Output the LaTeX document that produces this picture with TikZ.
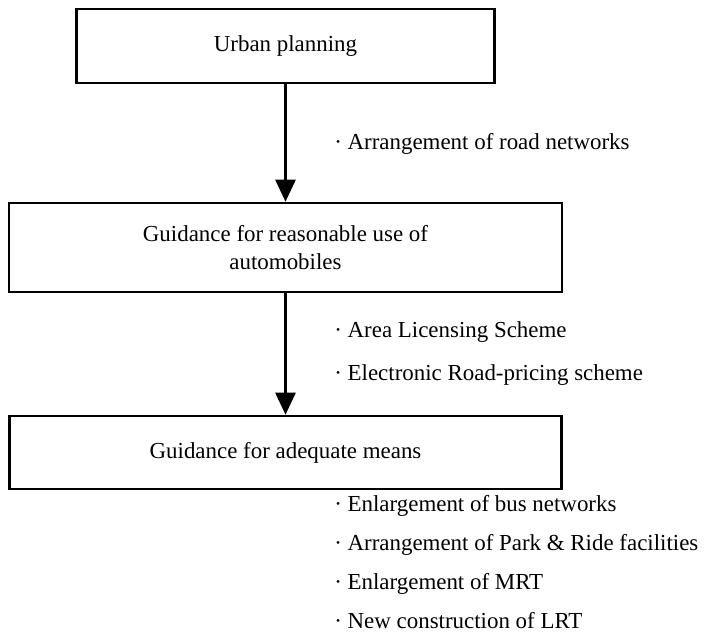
\documentclass[tikz,border=0pt]{standalone}
\usepackage{fontspec}
\setmainfont{Liberation Serif}
\usetikzlibrary{arrows.meta}

\begin{document}
\begin{tikzpicture}[x=0.025cm, y=-0.025cm, >={Triangle[length=0.55cm,width=0.5cm]},
    font=\fontsize{16.3}{20}\selectfont,
    box/.style={draw, line width=1.8pt, align=center, inner sep=0pt},
    item/.style={anchor=base west, inner sep=0pt}]
    \useasboundingbox (0,0) rectangle (704,634);

    %define the boxes
    \node[box, minimum width=10.45cm, minimum height=1.85cm]  (plan)  at (285.5,46)    {Urban planning};
    \node[box, minimum width=13.825cm, minimum height=2.225cm] (auto) at (285.5,247.5) {Guidance for reasonable use of\\automobiles};
    \node[box, minimum width=13.8cm, minimum height=1.825cm]  (means) at (285.5,452.5) {Guidance for adequate means};

    % define the links
    \draw[->, line width=1.8pt] (plan) -- (auto);
    \draw[->, line width=1.8pt] (auto) -- (means);

    % measures along the links
    \node[item] (road) at (334,149) {· Arrangement of road networks};
    \node[item] (als)  at (334,337) {· Area Licensing Scheme};
    \node[item] (erp)  at ([yshift=-1.075cm]als.base west) {· Electronic Road-pricing scheme};

    % measures under the last box
    \node[item] (bus)  at (334,511) {· Enlargement of bus networks};
    \node[item] (park) at ([yshift=-0.975cm]bus.base west)  {· Arrangement of Park \& Ride facilities};
    \node[item] (mrt)  at ([yshift=-0.975cm]park.base west) {· Enlargement of MRT};
    \node[item] (lrt)  at ([yshift=-0.975cm]mrt.base west)  {· New construction of LRT};
\end{tikzpicture}
\end{document}
